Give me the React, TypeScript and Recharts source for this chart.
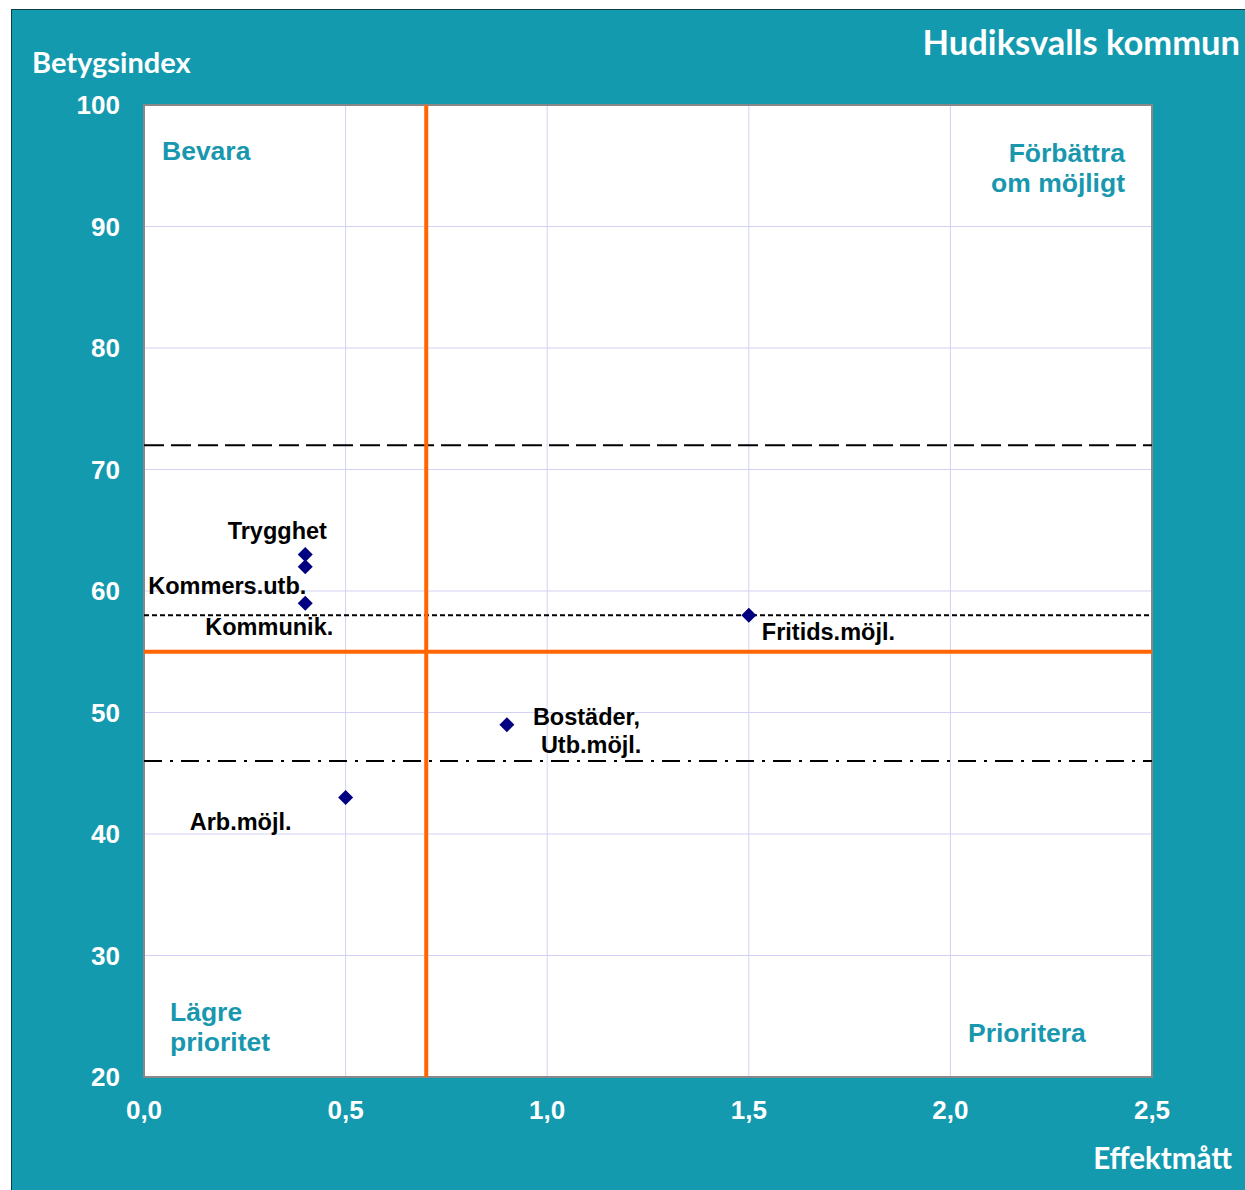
import React from 'react';
import { ScatterChart, Scatter, XAxis, YAxis, CartesianGrid, ReferenceLine, ReferenceArea } from 'recharts';

const names = ['Trygghet', 'Kommers.utb.', 'Kommunik.', 'Fritids.möjl.', 'Bostäder,\nUtb.möjl.', 'Arb.möjl.'];
const effekt = [0.4, 0.4, 0.4, 1.5, 0.9, 0.5];
const betyg = [63, 62, 59, 58, 49, 43];
const xTicks = [0, 0.5, 1, 1.5, 2, 2.5];
const yTicks = [20, 30, 40, 50, 60, 70, 80, 90, 100];
const xTickLabels = ['0,0', '0,5', '1,0', '1,5', '2,0', '2,5'];
const vLine = 0.7;
const hLine = 55;
const upperLimit = 72;
const meanLine = 58;
const lowerLimit = 46;

// label placement (style, not data)
const labelPlacement: Record<string, { dx: number; dy: number; anchor: string; dx2?: number }> = {
  'Trygghet': { dx: -28, dy: -24, anchor: 'middle' },
  'Kommers.utb.': { dx: 1, dy: 19, anchor: 'end' },
  'Kommunik.': { dx: -36, dy: 24, anchor: 'middle' },
  'Fritids.möjl.': { dx: 13, dy: 17, anchor: 'start' },
  'Bostäder,\nUtb.möjl.': { dx: 26, dy: -8, anchor: 'start', dx2: 34 },
  'Arb.möjl.': { dx: -105, dy: 24, anchor: 'middle' },
};

const data = names.map((n, i) => ({ name: n, x: effekt[i], y: betyg[i] }));

const TEAL = '#149AAF';
const ARIAL = '"Liberation Sans", Arial, sans-serif';
const CAL = 'Lato, "Open Sans", sans-serif';

const Point = (props: any) => {
  const { cx, cy, payload } = props;
  const p = labelPlacement[payload.name];
  const lines = String(payload.name).split('\n');
  const s = 7.5;
  return (
    <g>
      <polygon points={`${cx},${cy - s} ${cx + s},${cy} ${cx},${cy + s} ${cx - s},${cy}`} fill="#000080" />
      {lines.map((ln, i) => (
        <text
          key={i}
          x={cx + (i === 0 ? p.dx : p.dx2 ?? p.dx)}
          y={cy + p.dy + i * 28}
          textAnchor={p.anchor as any}
          dominantBaseline="central"
          fontFamily={ARIAL}
          fontWeight="bold"
          fontSize={23.5}
          fill="#000"
        >
          {ln}
        </text>
      ))}
    </g>
  );
};

const XTick = (props: any) => {
  const { x, y, payload } = props;
  const idx = xTicks.indexOf(payload.value);
  return (
    <text x={x} y={y + 33} textAnchor="middle" dominantBaseline="central" fontFamily={ARIAL} fontWeight="bold" fontSize={26} fill="#fff">
      {xTickLabels[idx]}
    </text>
  );
};

const YTick = (props: any) => {
  const { x, y, payload } = props;
  return (
    <text x={x - 24} y={y} textAnchor="end" dominantBaseline="central" fontFamily={ARIAL} fontWeight="bold" fontSize={26} fill="#fff">
      {payload.value}
    </text>
  );
};

const quad = { fontFamily: ARIAL, fontWeight: 'bold' as const, fontSize: 26.5, color: '#1897AF', position: 'absolute' as const, lineHeight: '30px', whiteSpace: 'nowrap' as const };

export default function App() {
  return (
    <div
      style={{
        position: 'absolute',
        left: 11,
        top: 9,
        width: 1233,
        height: 1180,
        background: TEAL,
        borderTop: '1px solid #0e3d47',
        borderLeft: '1px solid #0e3d47',
      }}
    >
      <ScatterChart width={1233} height={1180} margin={{ top: 95, right: 93, bottom: 53, left: 0 }}>
        <CartesianGrid fill="#ffffff" stroke="#d2d2f6" strokeWidth={1} />
        <XAxis
          type="number"
          dataKey="x"
          domain={[0, 2.5]}
          ticks={xTicks}
          tick={<XTick />}
          tickLine={false}
          axisLine={false}
          tickSize={0}
          tickMargin={0}
          height={60}
          interval={0}
        />
        <YAxis
          type="number"
          dataKey="y"
          domain={[20, 100]}
          ticks={yTicks}
          tick={<YTick />}
          tickLine={false}
          axisLine={false}
          tickSize={0}
          tickMargin={0}
          width={132}
          interval={0}
        />
        <ReferenceLine y={upperLimit} stroke="#000" strokeWidth={2} strokeDasharray="20 7" />
        <ReferenceLine y={meanLine} stroke="#000" strokeWidth={2} strokeDasharray="5 3" />
        <ReferenceLine y={lowerLimit} stroke="#000" strokeWidth={2} strokeDasharray="18 8 3 8" />
        <ReferenceLine x={vLine} stroke="#FF6600" strokeWidth={4} />
        <ReferenceLine y={hLine} stroke="#FF6600" strokeWidth={4} />
        <ReferenceArea x1={0} x2={2.5} y1={20} y2={100} fill="none" stroke="#888888" strokeWidth={2} />
        <Scatter data={data} shape={<Point />} isAnimationActive={false} />
      </ScatterChart>
      <div style={{ position: 'absolute', left: 20, top: 33, fontFamily: CAL, fontWeight: 'bold', fontSize: 29, color: '#fff', lineHeight: '38px', whiteSpace: 'nowrap' }}>
        Betygsindex
      </div>
      <div style={{ position: 'absolute', right: 5, top: 11, fontFamily: CAL, fontWeight: 'bold', fontSize: 34.5, color: '#fff', lineHeight: '42px', whiteSpace: 'nowrap' }}>
        Hudiksvalls kommun
      </div>
      <div style={{ position: 'absolute', right: 13, top: 1129, fontFamily: CAL, fontWeight: 'bold', fontSize: 29.5, color: '#fff', lineHeight: '38px', whiteSpace: 'nowrap' }}>
        Effektmått
      </div>
      <div style={{ ...quad, left: 150, top: 126 }}>Bevara</div>
      <div style={{ ...quad, right: 1233 - 1113, top: 128, textAlign: 'right' }}>
        Förbättra
        <br />
        om möjligt
      </div>
      <div style={{ ...quad, left: 158, top: 987 }}>
        Lägre
        <br />
        prioritet
      </div>
      <div style={{ ...quad, left: 956, top: 1008 }}>Prioritera</div>
    </div>
  );
}
